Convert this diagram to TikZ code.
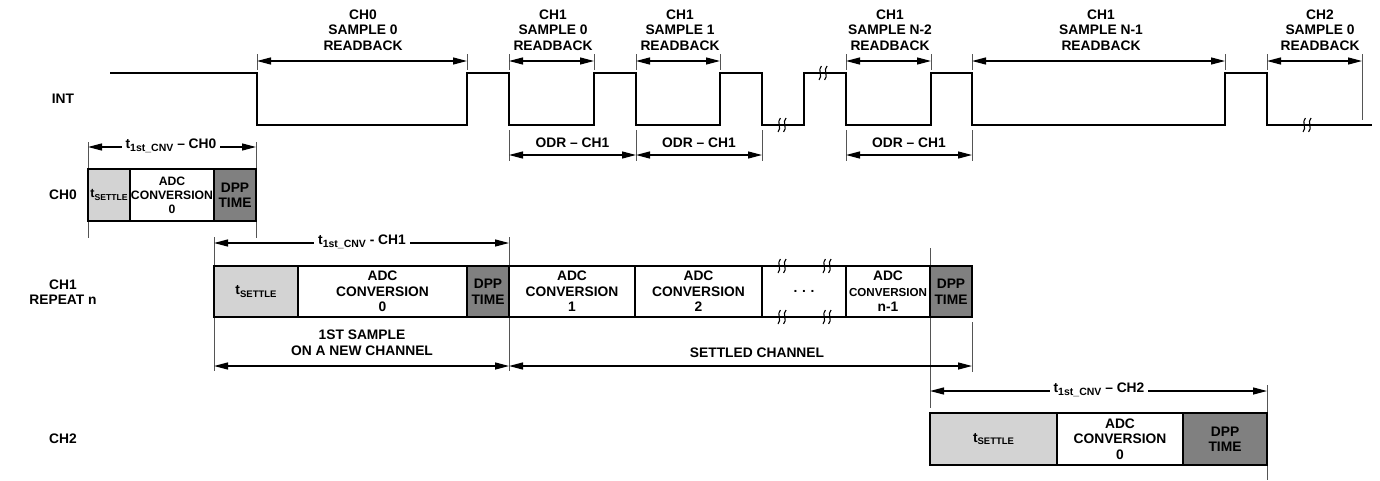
\documentclass[tikz,border=0pt]{standalone}
\usepackage{fontspec}
\setmainfont{Liberation Sans}
\usetikzlibrary{arrows.meta}
\definecolor{settle}{HTML}{D3D3D3}
\definecolor{dpp}{HTML}{808080}
\definecolor{tickc}{HTML}{555555}
\newcommand{\tsb}[2][9.5]{t\raisebox{-2.4pt}{\fontsize{#1}{#1}\selectfont #2}}
\begin{document}
\begin{tikzpicture}[x=1pt,y=-1pt,
  every node/.style={font=\bfseries\fontsize{13.8}{15.5}\selectfont, align=center, inner sep=1pt},
  wave/.style={line width=2pt, line join=miter},
  dimarrow/.style={line width=1.3pt, {Triangle[length=14pt,width=7pt]}-{Triangle[length=14pt,width=7pt]}},
  tickline/.style={line width=0.9pt, draw=tickc},
  cell/.style={draw, line width=1.8pt, inner sep=0pt},
  small/.style={font=\bfseries\fontsize{12.2}{14}\selectfont},
  dimlabel/.style={fill=white, inner sep=4pt},
  brk/.pic={\foreach \d in {-2.8,2.8} \draw[line width=1.1pt] (\d-1.2,7) .. controls (\d+3,3) and (\d-3,-3) .. (\d+1.2,-7);}
]
\useasboundingbox (0,0) rectangle (1380,480);

% ---------- INT waveform ----------
\draw[wave] (110,73) -- (257,73) -- (257,125) -- (467,125) -- (467,73) -- (509,73)
  -- (509,125) -- (594,125) -- (594,73) -- (636,73) -- (636,125) -- (720,125)
  -- (720,73) -- (762,73) -- (762,125) -- (804,125) -- (804,73) -- (846,73)
  -- (846,125) -- (931,125) -- (931,73) -- (972,73) -- (972,125) -- (1225,125)
  -- (1225,73) -- (1267,73) -- (1267,125) -- (1372,125);
\pic at (782,125) {brk};
\pic at (823,73) {brk};
\pic at (1307,125) {brk};

% ---------- row labels ----------
\node (lint) at (63,99) {INT};
\node (lch0) at (63,195) {CH0};
\node (lch1) at (63,292) {CH1\\REPEAT n};
\node (lch2) at (63,439) {CH2};

% ---------- readback arrows ----------
\foreach \a/\b/\c/\ch/\sm [count=\i] in {257/467/363/CH0/SAMPLE 0, 509/594/553/CH1/SAMPLE 0,
   636/720/680/CH1/SAMPLE 1, 846/931/890/CH1/SAMPLE N-2, 972/1225/1101/CH1/SAMPLE N-1,
   1267/1362/1320/CH2/SAMPLE 0}{
  \coordinate (ra\i) at (\a,61);
  \coordinate (rb\i) at (\b,61);
  \draw[tickline] (\a,54) -- (\a,70);
  \draw[tickline] (\b,54) -- (\b,70);
  \draw[dimarrow] (ra\i) -- (rb\i);
  \node (rl\i) at (\c,30) {\ch\\\sm\\READBACK};
}
\draw[tickline] (1362,70) -- (1362,120);

% ---------- ODR arrows ----------
\foreach \x in {509,636,762,846,972} \draw[tickline] (\x,130) -- (\x,161);
\foreach \a/\b [count=\i] in {509/636, 636/762, 846/972}{
  \coordinate (oa\i) at (\a,155);
  \coordinate (ob\i) at (\b,155);
  \draw[dimarrow] (oa\i) -- (ob\i);
  \node (ol\i) at ({(\a+\b)/2},143) {ODR -- CH1};
}

% ---------- timing ticks ----------
\draw[tickline] (88,142) -- (88,238);
\draw[tickline] (256,142) -- (256,238);
\draw[tickline] (214,237) -- (214,371);
\draw[tickline] (509,237) -- (509,371);
\draw[tickline] (930,248) -- (930,408);
\draw[tickline] (972,322) -- (972,372);
\draw[tickline] (1267,385) -- (1267,480);

% ---------- t1st_CNV arrows ----------
\coordinate (t0a) at (88,147);  \coordinate (t0b) at (256,147);
\draw[dimarrow] (t0a) -- (t0b);
\node[dimlabel] (t0l) at (171,146) {\tsb[10.5]{1st\_CNV} -- CH0};

\coordinate (t1a) at (214,243); \coordinate (t1b) at (509,243);
\draw[dimarrow] (t1a) -- (t1b);
\node[dimlabel] (t1l) at (362,242) {\tsb[10.5]{1st\_CNV} - CH1};

\coordinate (t2a) at (930,391); \coordinate (t2b) at (1267,391);
\draw[dimarrow] (t2a) -- (t2b);
\node[dimlabel] (t2l) at (1099,390) {\tsb[10.5]{1st\_CNV} -- CH2};

% ---------- CH0 row ----------
\node[cell, fill=settle, minimum width=42pt, minimum height=52pt] (c0s) at (109,195)
  {\fontsize{12.5}{13}\selectfont\tsb[8.6]{SETTLE}};
\node[cell, small, fill=white, minimum width=84pt, minimum height=52pt] (c0a) at (172,195)
  {ADC\\CONVERSION\\0};
\node[cell, fill=dpp, minimum width=42pt, minimum height=52pt] (c0d) at (235,195) {DPP\\TIME};

% ---------- CH1 row ----------
\node[cell, fill=settle, minimum width=84pt, minimum height=51pt] (c1s) at (256,291.5) {\tsb{SETTLE}};
\node[cell, fill=white, minimum width=169pt, minimum height=51pt] (c1a0) at (382.5,291.5) {ADC\\CONVERSION\\0};
\node[cell, fill=dpp, minimum width=42pt, minimum height=51pt] (c1d0) at (488,291.5) {DPP\\TIME};
\node[cell, fill=white, minimum width=126pt, minimum height=51pt] (c1a1) at (572,291.5) {ADC\\CONVERSION\\1};
\node[cell, fill=white, minimum width=127pt, minimum height=51pt] (c1a2) at (698.5,291.5) {ADC\\CONVERSION\\2};
\node[cell, fill=white, minimum width=84pt, minimum height=51pt] (c1dots) at (804,291.5) {.\,\,.\,\,.};
\node[cell, fill=white, minimum width=84pt, minimum height=51pt] (c1an) at (888,291.5)
  {ADC\\{\fontsize{11.6}{13}\selectfont CONVERSION}\\n-1};
\node[cell, fill=dpp, minimum width=42pt, minimum height=51pt] (c1dn) at (951,291.5) {DPP\\TIME};
\pic at (782,266) {brk};
\pic at (827,266) {brk};
\pic at (782,317) {brk};
\pic at (827,317) {brk};

% ---------- sample/settled arrows ----------
\coordinate (s1a) at (214,366); \coordinate (s1b) at (509,366);
\draw[dimarrow] (s1a) -- (s1b);
\node (s1l) at (362,342.5) {1ST SAMPLE\\ON A NEW CHANNEL};
\coordinate (s2a) at (509,366); \coordinate (s2b) at (972,366);
\draw[dimarrow] (s2a) -- (s2b);
\node (s2l) at (757,353) {SETTLED CHANNEL};

% ---------- CH2 row ----------
\node[cell, fill=settle, minimum width=127pt, minimum height=52pt] (c2s) at (993.5,439) {\tsb{SETTLE}};
\node[cell, fill=white, minimum width=126pt, minimum height=52pt] (c2a) at (1120,439) {ADC\\CONVERSION\\0};
\node[cell, fill=dpp, minimum width=84pt, minimum height=52pt] (c2d) at (1225,439) {DPP\\TIME};
\end{tikzpicture}
\end{document}
